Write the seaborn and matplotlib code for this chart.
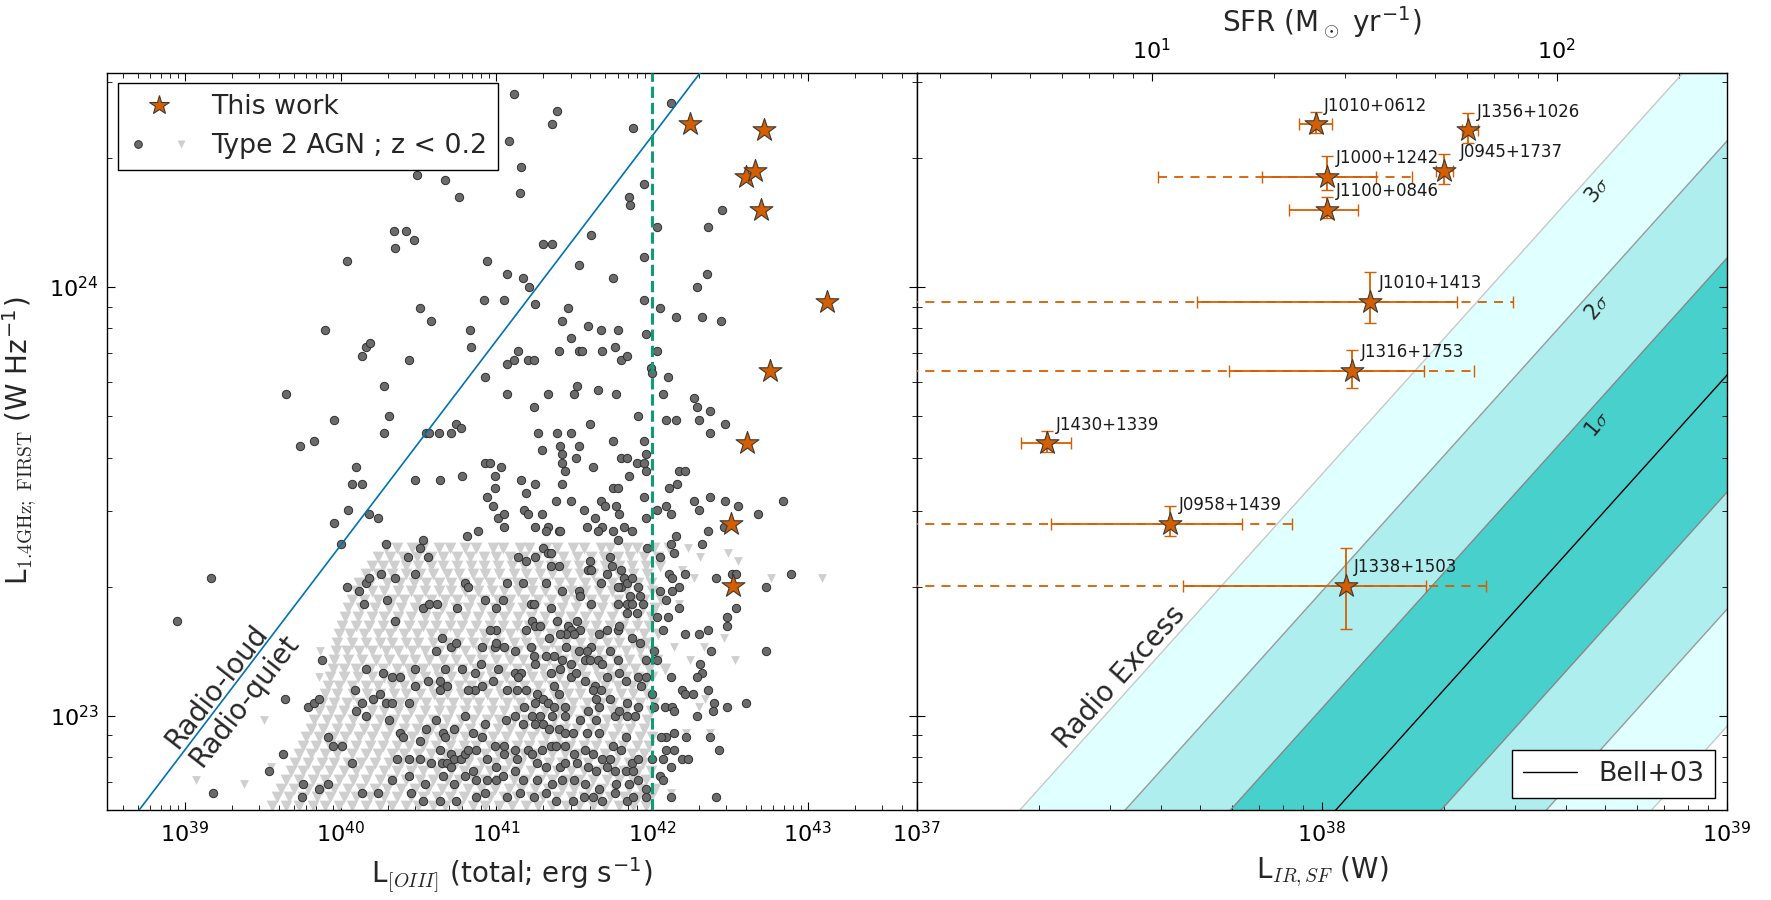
import numpy as np
import matplotlib
matplotlib.use("Agg")
import matplotlib.pyplot as plt
import seaborn as sns
from matplotlib.lines import Line2D
from matplotlib.legend_handler import HandlerTuple
from matplotlib.ticker import NullFormatter

# ---------------- data (log10 values) ----------------
SRC_NAMES = ["J1010+0612", "J1356+1026", "J1000+1242", "J0945+1737", "J1100+0846",
             "J1010+1413", "J1316+1753", "J1430+1339", "J0958+1439", "J1338+1503"]
SRC_LOG_L14 = [24.379, 24.365, 24.256, 24.270, 24.180, 23.965, 23.804, 23.635, 23.448, 23.302]
SRC_L14_ERR_HI = [0.03, 0.04, 0.05, 0.04, 0.03, 0.07, 0.05, 0.03, 0.04, 0.09]
SRC_L14_ERR_LO = [0.02, 0.03, 0.03, 0.03, 0.02, 0.05, 0.04, 0.02, 0.03, 0.10]
SRC_LOG_LOIII = [42.246, 42.715, 42.605, 42.663, 42.702, 43.124, 42.758, 42.612, 42.509, 42.520]
SRC_LOG_LIR = [37.985, 38.361, 38.013, 38.302, 38.013, 38.119, 38.075, 37.322, 37.625, 38.059]
SRC_LIR_LO = [37.944, 38.345, 37.853, 38.281, 37.919, 37.692, 37.770, 37.256, 37.330, 37.656]
SRC_LIR_HI = [38.025, 38.385, 38.133, 38.324, 38.090, 38.333, 38.253, 37.381, 37.802, 38.256]
SRC_LIR_WIDE_LO = [None, None, 37.595, None, None, 36.5, 36.5, None, 36.5, 36.5]
SRC_LIR_WIDE_HI = [None, None, 38.223, None, None, 38.473, 38.376, None, 37.927, 38.406]

# Type 2 AGN, FIRST detections: (log L[OIII], log L1.4)
AGN_DET = [
    (41.08, 24.34), (40.49, 24.26), (40.67, 24.25), (40.76, 24.21), (40.34, 24.13), (40.42, 24.13),
    (40.47, 24.11), (40.35, 24.09), (40.04, 24.06), (40.94, 24.06), (41.07, 24.03), (40.92, 23.97),
    (41.05, 23.97), (40.51, 23.95), (40.58, 23.92), (40.83, 23.90), (40.84, 23.86), (39.90, 23.90),
    (40.16, 23.86), (40.19, 23.87), (40.14, 23.84), (40.44, 23.83), (41.07, 23.82), (40.93, 23.79),
    (41.07, 23.75), (39.65, 23.75), (40.28, 23.77), (39.96, 23.69), (40.31, 23.70), (40.28, 23.66),
    (40.55, 23.66), (40.57, 23.66), (40.63, 23.66), (40.71, 23.66), (40.74, 23.68), (40.77, 23.67),
    (39.83, 23.64), (41.11, 24.45), (41.39, 24.41), (41.36, 24.38), (42.12, 24.43), (41.88, 24.37),
    (41.16, 24.28), (41.15, 24.22), (41.95, 24.24), (41.85, 24.21), (41.86, 24.19), (42.03, 24.14),
    (42.45, 24.18), (42.36, 24.14), (41.30, 24.10), (41.36, 24.10), (41.61, 24.12), (41.53, 24.05),
    (41.95, 24.07), (41.75, 24.02), (42.35, 24.03), (41.17, 24.02), (41.21, 24.00), (41.25, 23.96),
    (42.29, 24.00), (41.95, 23.97), (42.05, 23.95), (42.15, 23.93), (42.32, 23.93), (42.44, 23.92),
    (41.46, 23.95), (41.42, 23.92), (41.59, 23.91), (41.67, 23.90), (41.78, 23.90), (41.96, 23.89),
    (41.48, 23.88), (41.40, 23.85), (41.53, 23.85), (41.55, 23.85), (41.68, 23.85), (41.76, 23.86),
    (41.80, 23.83), (41.84, 23.84), (42.03, 23.85), (41.14, 23.85), (41.11, 23.83), (41.20, 23.83),
    (41.24, 23.83), (41.99, 23.81), (42.00, 23.80), (42.10, 23.79), (41.33, 23.75), (41.50, 23.75),
    (41.52, 23.77), (41.65, 23.76), (41.77, 23.75), (42.07, 23.75), (42.27, 23.74), (42.29, 23.72),
    (42.37, 23.71), (41.24, 23.72), (41.91, 23.70), (41.60, 23.68), (42.09, 23.69), (42.15, 23.69),
    (42.30, 23.69), (42.47, 23.68), (41.27, 23.66), (41.39, 23.66), (41.48, 23.66), (42.37, 23.66),
    (39.74, 23.63), (40.10, 23.58), (40.07, 23.54), (40.14, 23.54), (40.48, 23.55), (40.64, 23.55),
    (40.78, 23.56), (40.93, 23.59), (40.96, 23.59), (41.03, 23.58), (40.99, 23.56), (40.99, 23.53),
    (40.94, 23.51), (40.98, 23.49), (41.01, 23.46), (41.05, 23.47), (41.05, 23.44), (40.05, 23.48),
    (40.18, 23.47), (40.24, 23.46), (39.96, 23.45), (40.00, 23.40), (40.88, 23.43), (40.81, 23.42),
    (40.53, 23.41), (40.29, 23.40), (40.51, 23.39), (39.17, 23.32), (38.95, 23.22), (39.88, 23.13),
    (39.64, 23.04), (39.79, 23.02), (39.83, 23.03), (39.86, 23.04), (39.54, 22.87), (39.63, 22.91),
    (39.18, 22.82), (39.76, 22.84), (39.75, 22.81), (39.95, 22.93), (40.01, 22.93), (39.92, 22.95),
    (39.86, 22.83), (39.92, 22.84), (40.07, 22.89), (40.14, 22.82),
    (40.04, 23.30), (40.12, 23.29), (40.16, 23.31), (40.18, 23.32), (40.26, 23.33), (40.35, 23.32),
    (40.48, 23.33), (40.56, 23.37), (40.43, 23.37), (40.15, 23.26), (40.30, 23.27), (40.35, 23.22),
    (40.53, 23.25), (40.57, 23.26), (40.62, 23.26), (40.80, 23.31), (40.82, 23.30), (40.93, 23.27),
    (41.00, 23.25), (41.07, 23.31), (41.04, 23.27), (40.75, 23.25), (40.65, 23.18), (40.71, 23.16),
    (40.74, 23.17), (40.61, 23.15), (40.91, 23.16), (40.99, 23.16), (41.00, 23.20), (40.96, 23.20),
    (41.00, 23.17), (41.05, 23.16), (40.67, 23.11), (40.78, 23.11), (40.86, 23.10), (40.90, 23.12),
    (41.01, 23.11), (40.98, 23.08), (41.07, 23.06), (40.86, 23.06), (40.82, 23.06), (40.91, 23.07),
    (40.64, 23.08), (40.64, 23.06), (40.68, 23.07), (40.56, 23.08), (40.48, 23.11), (40.48, 23.07),
    (40.38, 23.09), (40.33, 23.09), (40.27, 23.10), (40.16, 23.11), (40.09, 23.06), (40.21, 23.04),
    (40.25, 23.05), (40.29, 23.03), (40.33, 23.03), (40.44, 23.03), (40.14, 23.03), (40.10, 23.01),
    (40.16, 23.00), (40.31, 22.99), (40.38, 22.96), (40.40, 22.95), (40.51, 22.94), (40.55, 22.97),
    (40.61, 22.99), (40.66, 22.96), (40.67, 22.95), (40.73, 22.97), (40.80, 23.00), (40.85, 22.96),
    (40.91, 22.95), (40.93, 22.98), (40.99, 22.93), (41.05, 22.93), (41.06, 22.99), (40.64, 22.92),
    (40.71, 22.91), (40.73, 22.90), (40.77, 22.90), (40.80, 22.91), (40.82, 22.92), (40.87, 22.92),
    (40.94, 22.90), (41.05, 22.91), (40.58, 22.89), (40.65, 22.89), (40.68, 22.89), (40.51, 22.90),
    (40.36, 22.90), (40.44, 22.90), (40.33, 22.85), (40.44, 22.86), (40.54, 22.84), (40.66, 22.86),
    (40.71, 22.88), (40.73, 22.84), (40.80, 22.86), (40.85, 22.87), (40.87, 22.85), (40.94, 22.85),
    (41.00, 22.85), (41.04, 22.86), (41.00, 22.88), (40.87, 22.81), (40.93, 22.82), (41.07, 22.81),
    (40.74, 22.80), (40.64, 22.80), (40.53, 22.80), (40.45, 22.82), (40.24, 22.82),
    (41.29, 23.62), (41.41, 23.63), (41.53, 23.63), (41.75, 23.64), (41.95, 23.64), (41.42, 23.61),
    (41.51, 23.60), (41.42, 23.59), (41.44, 23.57), (41.62, 23.58), (41.80, 23.60), (41.84, 23.60),
    (41.90, 23.59), (41.96, 23.61), (41.95, 23.59), (41.96, 23.57), (41.85, 23.56), (41.42, 23.54),
    (41.16, 23.55), (41.25, 23.54), (41.19, 23.52), (41.75, 23.53), (41.78, 23.53), (41.95, 23.51),
    (42.11, 23.53), (42.16, 23.54), (42.17, 23.57), (42.21, 23.57), (41.38, 23.50), (41.48, 23.50),
    (41.67, 23.50), (41.70, 23.49), (41.77, 23.49), (41.79, 23.47), (41.56, 23.48), (41.18, 23.48),
    (41.20, 23.47), (41.29, 23.47), (41.25, 23.44), (41.33, 23.44), (41.32, 23.43), (41.40, 23.43),
    (41.41, 23.43), (41.58, 23.44), (41.63, 23.46), (41.68, 23.44), (41.65, 23.43), (41.75, 23.43),
    (41.78, 23.41), (41.82, 23.44), (41.87, 23.43), (41.96, 23.46), (42.03, 23.48), (42.09, 23.49),
    (42.12, 23.47), (42.27, 23.50), (42.30, 23.48), (42.37, 23.51), (42.47, 23.50), (42.55, 23.49),
    (42.68, 23.47), (42.84, 23.50), (42.46, 23.44), (42.36, 23.43), (42.15, 23.42), (42.12, 23.40),
    (42.32, 23.40), (42.14, 23.38), (41.97, 23.39), (42.05, 23.37), (42.11, 23.33), (42.13, 23.32),
    (42.21, 23.33), (42.41, 23.32), (42.51, 23.33), (42.54, 23.33), (42.73, 23.30), (42.89, 23.33),
    (42.17, 23.30), (42.13, 23.29), (42.05, 23.29), (42.09, 23.27), (42.17, 23.25), (42.10, 23.23),
    (42.07, 23.20), (42.03, 23.23), (42.21, 23.19), (42.30, 23.19), (42.36, 23.20), (42.48, 23.23),
    (42.48, 23.21), (42.54, 23.25), (42.38, 23.15), (42.73, 23.15), (42.31, 23.12), (42.32, 23.10),
    (42.29, 23.09), (42.12, 23.09), (42.03, 23.13), (42.01, 23.15), (42.19, 23.06), (42.21, 23.05),
    (42.26, 23.05), (42.36, 23.06), (42.40, 23.03), (42.39, 23.01), (42.48, 23.02), (42.60, 23.03),
    (42.29, 23.00), (42.08, 23.02), (42.13, 23.02), (42.14, 23.01), (42.00, 23.05), (42.01, 23.02),
    (42.14, 22.96), (42.22, 22.95), (42.09, 22.95), (42.06, 22.95), (42.37, 22.95), (42.43, 22.92),
    (42.09, 22.92), (42.14, 22.92), (42.00, 22.90), (42.07, 22.90), (42.19, 22.90), (42.23, 22.90),
    (42.12, 22.88), (42.05, 22.86), (42.07, 22.85), (41.96, 22.83), (42.12, 22.81), (42.41, 22.81),
    (41.96, 22.81),
    (41.14, 23.37), (41.19, 23.36), (41.25, 23.37), (41.30, 23.39), (41.33, 23.38), (41.35, 23.38),
    (41.35, 23.35), (41.40, 23.35), (41.17, 23.31), (41.32, 23.31), (41.42, 23.29), (41.53, 23.29),
    (41.54, 23.28), (41.60, 23.36), (41.59, 23.34), (41.61, 23.34), (41.73, 23.37), (41.74, 23.35),
    (41.71, 23.33), (41.80, 23.34), (41.82, 23.32), (41.67, 23.31), (41.80, 23.30), (41.84, 23.31),
    (41.78, 23.30), (41.87, 23.32), (41.91, 23.30), (41.92, 23.28), (41.86, 23.28), (41.84, 23.26),
    (41.87, 23.26), (41.90, 23.24), (41.94, 23.26), (41.84, 23.24), (41.78, 23.26), (41.61, 23.26),
    (41.22, 23.26), (41.24, 23.26), (41.35, 23.25), (41.23, 23.22), (41.25, 23.21), (41.28, 23.21),
    (41.19, 23.20), (41.39, 23.22), (41.46, 23.21), (41.48, 23.20), (41.52, 23.22), (41.54, 23.20),
    (41.50, 23.19), (41.45, 23.19), (41.41, 23.19), (41.34, 23.18), (41.66, 23.19), (41.71, 23.20),
    (41.78, 23.20), (41.79, 23.21), (41.87, 23.18), (41.92, 23.17), (41.73, 23.15), (41.61, 23.16),
    (41.58, 23.15), (41.53, 23.15), (41.45, 23.16), (41.37, 23.14), (41.32, 23.14), (41.24, 23.14),
    (41.22, 23.16), (41.12, 23.15), (41.25, 23.12), (41.42, 23.13), (41.48, 23.12), (41.57, 23.13),
    (41.60, 23.13), (41.65, 23.13), (41.68, 23.12), (41.78, 23.13), (41.96, 23.13), (41.12, 23.10),
    (41.16, 23.10), (41.14, 23.09), (41.35, 23.10), (41.41, 23.11), (41.48, 23.09), (41.51, 23.10),
    (41.57, 23.08), (41.63, 23.07), (41.71, 23.09), (41.79, 23.10), (41.83, 23.08), (41.91, 23.09),
    (41.96, 23.09), (41.93, 23.07), (41.13, 23.06), (41.19, 23.06), (41.26, 23.05), (41.37, 23.07),
    (41.40, 23.05), (41.62, 23.06), (41.67, 23.06), (41.30, 23.04), (41.25, 23.03), (41.33, 23.03),
    (41.37, 23.02), (41.44, 23.02), (41.64, 23.04), (41.66, 23.02), (41.73, 23.04), (41.84, 23.03),
    (41.91, 23.02), (41.18, 23.02), (41.12, 23.00), (41.23, 23.00), (41.28, 23.00), (41.36, 23.00),
    (41.44, 23.00), (41.54, 22.99), (41.59, 23.01), (41.64, 22.99), (41.76, 23.00), (41.79, 23.01),
    (41.84, 23.00), (41.89, 23.00), (41.17, 22.98), (41.25, 22.98), (41.30, 22.98), (41.34, 22.97),
    (41.40, 22.97), (41.44, 22.96), (41.49, 22.96), (41.58, 22.96), (41.66, 22.96), (41.83, 22.95),
    (41.75, 22.93), (41.12, 22.92), (41.20, 22.92), (41.23, 22.91), (41.29, 22.92), (41.35, 22.93),
    (41.38, 22.93), (41.44, 22.93), (41.50, 22.91), (41.57, 22.92), (41.62, 22.91), (41.68, 22.90),
    (41.73, 22.90), (41.80, 22.92), (41.87, 22.89), (41.91, 22.90), (41.13, 22.90), (41.26, 22.89),
    (41.32, 22.88), (41.41, 22.88), (41.44, 22.89), (41.52, 22.89), (41.59, 22.88), (41.64, 22.87),
    (41.71, 22.88), (41.76, 22.87), (41.83, 22.87), (41.88, 22.87), (41.91, 22.85), (41.12, 22.87),
    (41.17, 22.85), (41.26, 22.85), (41.36, 22.84), (41.42, 22.85), (41.50, 22.85), (41.57, 22.84),
    (41.66, 22.83), (41.77, 22.84), (41.85, 22.84), (41.15, 22.82), (41.24, 22.81), (41.32, 22.82),
    (41.38, 22.80), (41.49, 22.80), (41.56, 22.81), (41.62, 22.81), (41.68, 22.80), (41.76, 22.82),
    (41.84, 22.80), (41.88, 22.81),
]

# Type 2 AGN, FIRST upper limits: dense cloud, one row per log L1.4 level
AGN_LIM_ROWS = [
    (23.39, [40.29, 40.36, 40.46, 40.53, 40.63, 40.70, 40.80, 40.87, 40.98, 41.04, 41.15, 41.21,
             41.32, 41.39, 41.49, 41.56, 41.67, 41.73, 41.84, 41.90, 42.01, 42.11]),
    (23.37, [40.24, 40.32, 40.40, 40.49, 40.58, 40.66, 40.75, 40.83, 40.92, 41.00, 41.09, 41.18,
             41.26, 41.35, 41.43, 41.52, 41.61, 41.69, 41.78, 41.86, 41.95, 42.04]),
    (23.35, [40.20, 40.27, 40.34, 40.42, 40.50, 40.58, 40.66, 40.75, 40.84, 40.92, 41.01, 41.10,
             41.18, 41.27, 41.35, 41.44, 41.53, 41.61, 41.70, 41.79, 41.87, 41.96, 42.05]),
    (23.33, [40.16, 40.24, 40.33, 40.42, 40.51, 40.59, 40.68, 40.76, 40.85, 40.93, 41.02, 41.11,
             41.19, 41.28, 41.36, 41.45, 41.54, 41.62, 41.71, 41.79, 41.88, 41.97]),
    (23.31, [40.12, 40.19, 40.30, 40.38, 40.47, 40.55, 40.63, 40.71, 40.79, 40.88, 40.96, 41.06,
             41.13, 41.23, 41.31, 41.40, 41.48, 41.57, 41.65, 41.74, 41.82, 41.91, 41.99]),
    (23.29, [40.10, 40.20, 40.28, 40.37, 40.45, 40.54, 40.63, 40.71, 40.80, 40.88, 40.97, 41.05,
             41.14, 41.23, 41.31, 41.40, 41.48, 41.57, 41.66, 41.74, 41.83, 41.91, 42.00]),
    (23.27, [40.07, 40.15, 40.24, 40.33, 40.41, 40.50, 40.58, 40.67, 40.75, 40.84, 40.92, 41.01,
             41.09, 41.18, 41.27, 41.35, 41.44, 41.52, 41.61, 41.69, 41.78, 41.87, 41.95, 42.06]),
    (23.25, [40.05, 40.13, 40.22, 40.31, 40.39, 40.48, 40.56, 40.65, 40.74, 40.82, 40.91, 40.99,
             41.08, 41.17, 41.25, 41.34, 41.42, 41.51, 41.60, 41.68, 41.77, 41.85, 41.94, 42.02]),
    (23.23, [40.03, 40.11, 40.20, 40.28, 40.37, 40.45, 40.54, 40.62, 40.71, 40.80, 40.88, 40.97,
             41.05, 41.14, 41.22, 41.31, 41.40, 41.48, 41.57, 41.65, 41.74, 41.83, 41.91, 41.99]),
    (23.21, [40.01, 40.10, 40.18, 40.27, 40.35, 40.44, 40.53, 40.61, 40.70, 40.78, 40.87, 40.96,
             41.04, 41.13, 41.21, 41.30, 41.39, 41.47, 41.56, 41.64, 41.73, 41.81, 41.90, 41.98]),
    (23.19, [39.99, 40.06, 40.15, 40.24, 40.32, 40.41, 40.49, 40.58, 40.66, 40.75, 40.84, 40.92,
             41.01, 41.09, 41.18, 41.26, 41.35, 41.44, 41.52, 41.61, 41.69, 41.78, 41.86, 41.95, 42.04]),
    (23.17, [39.98, 40.07, 40.16, 40.25, 40.33, 40.42, 40.50, 40.59, 40.68, 40.76, 40.85, 40.93,
             41.02, 41.11, 41.19, 41.28, 41.36, 41.45, 41.54, 41.62, 41.71, 41.79, 41.88, 41.96]),
    (23.15, [39.97, 40.04, 40.12, 40.20, 40.29, 40.37, 40.46, 40.54, 40.63, 40.72, 40.80, 40.89,
             40.97, 41.06, 41.14, 41.23, 41.31, 41.40, 41.49, 41.57, 41.66, 41.74, 41.83, 41.92, 42.00]),
    (23.13, [39.96, 40.05, 40.14, 40.23, 40.31, 40.40, 40.48, 40.57, 40.66, 40.74, 40.83, 40.91,
             41.00, 41.09, 41.17, 41.26, 41.34, 41.43, 41.51, 41.60, 41.68, 41.77, 41.85, 41.94, 42.03]),
    (23.11, [39.95, 40.02, 40.10, 40.19, 40.27, 40.36, 40.44, 40.53, 40.61, 40.70, 40.78, 40.87,
             40.95, 41.04, 41.13, 41.21, 41.30, 41.38, 41.47, 41.55, 41.64, 41.72, 41.81, 41.89,
             41.98, 42.08]),
    (23.09, [39.93, 40.02, 40.11, 40.20, 40.28, 40.37, 40.46, 40.54, 40.63, 40.71, 40.80, 40.89,
             40.97, 41.06, 41.14, 41.23, 41.31, 41.40, 41.49, 41.57, 41.66, 41.74, 41.83, 41.91, 42.00]),
    (23.07, [39.92, 39.99, 40.07, 40.16, 40.24, 40.33, 40.41, 40.50, 40.58, 40.67, 40.76, 40.84,
             40.93, 41.01, 41.10, 41.18, 41.27, 41.36, 41.44, 41.53, 41.61, 41.70, 41.78, 41.87, 41.95]),
    (23.05, [39.90, 39.98, 40.08, 40.17, 40.25, 40.34, 40.42, 40.51, 40.60, 40.68, 40.77, 40.85,
             40.94, 41.03, 41.11, 41.20, 41.28, 41.37, 41.46, 41.54, 41.63, 41.71, 41.80, 41.88, 41.97]),
    (23.03, [39.88, 39.96, 40.04, 40.12, 40.21, 40.29, 40.38, 40.47, 40.55, 40.64, 40.72, 40.81,
             40.89, 40.98, 41.07, 41.15, 41.24, 41.32, 41.41, 41.49, 41.58, 41.67, 41.75, 41.84,
             41.92, 42.01]),
    (23.01, [39.86, 39.94, 40.02, 40.11, 40.20, 40.28, 40.37, 40.45, 40.54, 40.63, 40.71, 40.80,
             40.88, 40.97, 41.05, 41.14, 41.23, 41.31, 41.40, 41.48, 41.57, 41.65, 41.74, 41.83,
             41.91, 41.99]),
    (22.99, [39.83, 39.91, 39.99, 40.08, 40.17, 40.25, 40.34, 40.42, 40.51, 40.59, 40.68, 40.77,
             40.85, 40.94, 41.02, 41.11, 41.19, 41.28, 41.37, 41.45, 41.54, 41.62, 41.71, 41.79,
             41.88, 41.97]),
    (22.97, [39.81, 39.89, 39.98, 40.06, 40.15, 40.23, 40.32, 40.41, 40.49, 40.58, 40.66, 40.75,
             40.83, 40.92, 41.01, 41.09, 41.18, 41.26, 41.35, 41.44, 41.52, 41.61, 41.69, 41.78,
             41.86, 41.95]),
    (22.95, [39.78, 39.86, 39.95, 40.03, 40.12, 40.20, 40.29, 40.38, 40.46, 40.55, 40.63, 40.72,
             40.80, 40.89, 40.98, 41.06, 41.15, 41.23, 41.32, 41.40, 41.49, 41.58, 41.66, 41.75,
             41.83, 41.92, 42.00]),
    (22.93, [39.76, 39.84, 39.93, 40.01, 40.10, 40.19, 40.27, 40.36, 40.44, 40.53, 40.61, 40.70,
             40.79, 40.87, 40.96, 41.04, 41.13, 41.21, 41.30, 41.39, 41.47, 41.56, 41.64, 41.73,
             41.81, 41.90, 41.98]),
    (22.91, [39.73, 39.81, 39.90, 39.98, 40.07, 40.16, 40.24, 40.33, 40.41, 40.50, 40.58, 40.67,
             40.76, 40.84, 40.93, 41.01, 41.10, 41.18, 41.27, 41.36, 41.44, 41.53, 41.61, 41.70,
             41.78, 41.87, 41.95]),
    (22.89, [39.71, 39.79, 39.88, 39.96, 40.05, 40.13, 40.22, 40.31, 40.39, 40.48, 40.56, 40.65,
             40.74, 40.82, 40.91, 40.99, 41.08, 41.16, 41.25, 41.34, 41.42, 41.51, 41.59, 41.68,
             41.76, 41.85, 41.94]),
    (22.87, [39.68, 39.76, 39.85, 39.93, 40.02, 40.10, 40.19, 40.28, 40.36, 40.45, 40.53, 40.62,
             40.71, 40.79, 40.88, 40.96, 41.05, 41.13, 41.22, 41.31, 41.39, 41.48, 41.56, 41.65,
             41.73, 41.82, 41.91, 41.99]),
    (22.85, [39.65, 39.73, 39.82, 39.90, 39.99, 40.08, 40.16, 40.25, 40.33, 40.42, 40.51, 40.59,
             40.68, 40.76, 40.85, 40.93, 41.02, 41.11, 41.19, 41.28, 41.36, 41.45, 41.53, 41.62,
             41.71, 41.79, 41.88, 41.96]),
    (22.83, [39.62, 39.70, 39.79, 39.88, 39.96, 40.05, 40.13, 40.22, 40.30, 40.39, 40.48, 40.56,
             40.65, 40.73, 40.82, 40.90, 40.99, 41.08, 41.16, 41.25, 41.33, 41.42, 41.50, 41.59,
             41.68, 41.76, 41.85, 41.93, 42.02]),
    (22.81, [39.59, 39.67, 39.76, 39.85, 39.93, 40.02, 40.10, 40.19, 40.28, 40.36, 40.45, 40.53,
             40.62, 40.70, 40.79, 40.88, 40.96, 41.05, 41.13, 41.22, 41.30, 41.39, 41.48, 41.56,
             41.65, 41.73, 41.82, 41.91, 41.99]),
    (22.79, [39.56, 39.65, 39.73, 39.82, 39.90, 39.99, 40.07, 40.16, 40.25, 40.33, 40.42, 40.50,
             40.59, 40.67, 40.76, 40.85, 40.93, 41.02, 41.10, 41.19, 41.27, 41.36, 41.45, 41.53,
             41.62, 41.70, 41.79, 41.88, 41.96]),
]
# isolated upper limits outside the cloud
AGN_LIM_SPARSE = [
    (39.07, 22.85), (39.38, 22.84), (39.51, 22.99), (39.55, 22.88), (39.86, 23.09), (39.87, 23.15),
    (42.23, 23.39), (42.31, 23.37), (42.49, 23.38), (42.55, 23.36), (42.19, 23.34), (42.27, 23.32),
    (42.76, 23.32), (43.09, 23.32), (42.17, 23.26), (42.46, 23.18), (42.14, 23.16), (42.24, 23.13),
    (42.33, 23.16), (42.53, 23.13), (42.34, 23.04), (42.30, 23.02), (42.22, 22.96), (42.37, 22.96),
    (42.12, 22.82),
]

# radio-loud / radio-quiet divide: two points on the line (log L[OIII], log L1.4)
RL_LINE_LOGX = [39.0, 42.0]
RL_LINE_LOGY = [22.92, 24.352]
OIII_CUT = 1e42

# Bell+03 relation as drawn: log L1.4 = slope * log L_IR + norm, scatter sigma (dex)
BELL_SLOPE = 1.05
BELL_NORM = -17.156
BELL_SIGMA = 0.273
SFR_PER_W = 10 ** -36.58

# ---------------- style ----------------
sns.set_style("ticks", {"xtick.direction": "in", "ytick.direction": "in",
                        "axes.edgecolor": "black"})
plt.rcParams["font.family"] = ["DejaVu Sans"]
plt.rcParams["mathtext.fontset"] = "cm"
plt.rcParams["xtick.major.size"] = 6
plt.rcParams["ytick.major.size"] = 6
plt.rcParams["xtick.minor.size"] = 3.5
plt.rcParams["ytick.minor.size"] = 3.5
plt.rcParams["xtick.color"] = "black"
plt.rcParams["ytick.color"] = "black"

ORANGE = "#D55E00"
STAR_EDGE = "#3a3a3a"
CIRC_FACE = "#6b6b6b"
CIRC_EDGE = "#2f2f2f"
TRI_COLOR = "#cfcfcf"
LEG_FS = 19.3

fig, (ax1, ax2) = plt.subplots(1, 2, sharey=True, figsize=(17.71, 9.0), dpi=100)
fig.subplots_adjust(left=0.0604, right=0.9751, bottom=0.1, top=0.9194, wspace=0)

# ---------------- left panel ----------------
tri_x = [x for y, xs in AGN_LIM_ROWS for x in xs]
tri_y = [y for y, xs in AGN_LIM_ROWS for x in xs]
sns.scatterplot(x=10 ** np.array(tri_x), y=10 ** np.array(tri_y), marker="v", s=72,
                color=TRI_COLOR, linewidth=0, ax=ax1, zorder=1)
sp = np.array(AGN_LIM_SPARSE)
sns.scatterplot(x=10 ** sp[:, 0], y=10 ** sp[:, 1], marker="v", s=40,
                color=TRI_COLOR, linewidth=0, ax=ax1, zorder=1)
det = np.array(AGN_DET)
sns.scatterplot(x=10 ** det[:, 0], y=10 ** det[:, 1], marker="o", s=36,
                color=CIRC_FACE, edgecolor=CIRC_EDGE, linewidth=0.7, ax=ax1, zorder=2)

ax1.set_xscale("log")
ax1.set_yscale("log")
ax1.axline((10 ** RL_LINE_LOGX[0], 10 ** RL_LINE_LOGY[0]),
           (10 ** RL_LINE_LOGX[1], 10 ** RL_LINE_LOGY[1]), color="#0072B2", lw=1.2, zorder=3)
ax1.axvline(OIII_CUT, color="#0E9E73", lw=2.2, ls="--", zorder=3)

sns.scatterplot(x=10 ** np.array(SRC_LOG_LOIII), y=10 ** np.array(SRC_LOG_L14), marker="*",
                s=300, color=ORANGE, edgecolor=STAR_EDGE, linewidth=0.8, ax=ax1, zorder=5)

ax1.text(10 ** 39.206, 10 ** 23.068, "Radio-loud", rotation=52, fontsize=20,
         ha="center", va="center", rotation_mode="anchor")
ax1.text(10 ** 39.379, 10 ** 23.034, "Radio-quiet", rotation=52, fontsize=20,
         ha="center", va="center", rotation_mode="anchor")

ax1.set_xlim(10 ** 38.5, 10 ** 43.7)
ax1.set_ylim(10 ** 22.78, 10 ** 24.5)
ax1.set_xlabel("L$_{[OIII]}$ (total; erg s$^{\\mathdefault{-1}}$)", fontsize=20, labelpad=6)
ax1.set_ylabel("L$_{\\mathrm{1.4GHz;\\ FIRST}}$ (W Hz$^{\\mathdefault{-1}}$)", fontsize=20, labelpad=8)

h_star = Line2D([], [], marker="*", ls="none", ms=15, mfc=ORANGE, mec=STAR_EDGE, mew=0.8)
h_circ = Line2D([], [], marker="o", ls="none", ms=5.5, mfc=CIRC_FACE, mec=CIRC_EDGE, mew=0.7)
h_tri = Line2D([], [], marker="v", ls="none", ms=5.5, mfc=TRI_COLOR, mec="none")
leg1 = ax1.legend([h_star, (h_circ, h_tri)], ["This work", "Type 2 AGN ; z < 0.2"],
                  handler_map={tuple: HandlerTuple(ndivide=None, pad=0.9)},
                  loc="upper left", fontsize=LEG_FS, frameon=True, fancybox=False,
                  edgecolor="black", framealpha=1, handlelength=2.3, borderaxespad=0.4)
leg1.get_frame().set_linewidth(1.0)

# ---------------- right panel ----------------
lx = np.array([1e36, 1e40])
llog = np.log10(lx)
center = BELL_SLOPE * llog + BELL_NORM
band_colors = ["#E0FFFF", "#AFEEEE", "#48D1CC"]
edge_colors = ["#c8c8c8", "#9a9a9a", "#878787"]
for k, (fc, ec) in zip([3, 2, 1], zip(band_colors, edge_colors)):
    ax2.fill_between(lx, 10 ** (center - k * BELL_SIGMA), 10 ** (center + k * BELL_SIGMA),
                     facecolor=fc, edgecolor="none", zorder=0)
    ax2.plot(lx, 10 ** (center + k * BELL_SIGMA), color=ec, lw=1.0, zorder=1)
    ax2.plot(lx, 10 ** (center - k * BELL_SIGMA), color=ec, lw=1.0, zorder=1)
ax2.plot(lx, 10 ** center, color="black", lw=1.0, zorder=1)

ax2.set_xscale("log")
ax2.set_yscale("log")

for i, name in enumerate(SRC_NAMES):
    x = 10 ** SRC_LOG_LIR[i]
    y = 10 ** SRC_LOG_L14[i]
    if SRC_LIR_WIDE_LO[i] is not None:
        eb = ax2.errorbar(x, y, xerr=[[x - 10 ** SRC_LIR_WIDE_LO[i]], [10 ** SRC_LIR_WIDE_HI[i] - x]],
                          fmt="none", ecolor=ORANGE, elinewidth=1.3, capsize=4, capthick=1.0, zorder=3)
        eb[2][0].set_linestyle((0, (5, 4)))
    ax2.errorbar(x, y,
                 xerr=[[x - 10 ** SRC_LIR_LO[i]], [10 ** SRC_LIR_HI[i] - x]],
                 yerr=[[y - 10 ** (SRC_LOG_L14[i] - SRC_L14_ERR_LO[i])],
                       [10 ** (SRC_LOG_L14[i] + SRC_L14_ERR_HI[i]) - y]],
                 fmt="none", ecolor=ORANGE, elinewidth=1.3, capsize=4, capthick=1.0, zorder=4)
    dx = 11.5 if name == "J0945+1737" else 6
    ax2.annotate(name, (x, y), xytext=(dx, 7), textcoords="offset points",
                 fontsize=12, ha="left", va="bottom", color="#1a1a1a", zorder=6)

sns.scatterplot(x=10 ** np.array(SRC_LOG_LIR), y=10 ** np.array(SRC_LOG_L14), marker="*",
                s=300, color=ORANGE, edgecolor=STAR_EDGE, linewidth=0.8, ax=ax2, zorder=5)

ax2.text(10 ** 37.50, 10 ** 23.09, "Radio Excess", rotation=48, fontsize=20,
         ha="center", va="center", rotation_mode="anchor")
for k, ly in zip([3, 2, 1], [24.226, 23.951, 23.678]):
    ax2.text(10 ** 38.68, 10 ** ly, f"{k}$\\sigma$", rotation=50, fontsize=15,
             ha="center", va="center", rotation_mode="anchor")

ax2.set_xlim(1e37, 1e39)
ax2.set_xlabel("L$_{IR,SF}$ (W)", fontsize=20, labelpad=6)

leg2 = ax2.legend([Line2D([], [], color="black", lw=1.0)], ["Bell+03"], loc="lower right",
                  fontsize=LEG_FS, frameon=True, fancybox=False, edgecolor="black", framealpha=1,
                  borderaxespad=0.45)
leg2.get_frame().set_linewidth(1.0)

secax = ax2.secondary_xaxis("top", functions=(lambda l: l * SFR_PER_W, lambda s: s / SFR_PER_W))
secax.set_xticks([10, 100])
secax.set_xlabel("SFR (M$_\\odot$ yr$^{\\mathdefault{-1}}$)", fontsize=20, labelpad=4)
secax.tick_params(which="both", direction="in", labelsize=16, pad=7)
secax.xaxis.set_minor_formatter(NullFormatter())

# ---------------- ticks ----------------
for ax in (ax1, ax2):
    ax.tick_params(which="both", direction="in", top=True, right=True, labelsize=16)
    ax.tick_params(axis="x", which="major", pad=8)
    ax.tick_params(axis="y", which="major", pad=6)
    ax.xaxis.set_minor_formatter(NullFormatter())
    ax.yaxis.set_minor_formatter(NullFormatter())
    for s in ax.spines.values():
        s.set_linewidth(1.0)
        s.set_color("black")
ax2.tick_params(which="both", top=False)

fig.savefig("out.png", dpi=100)
